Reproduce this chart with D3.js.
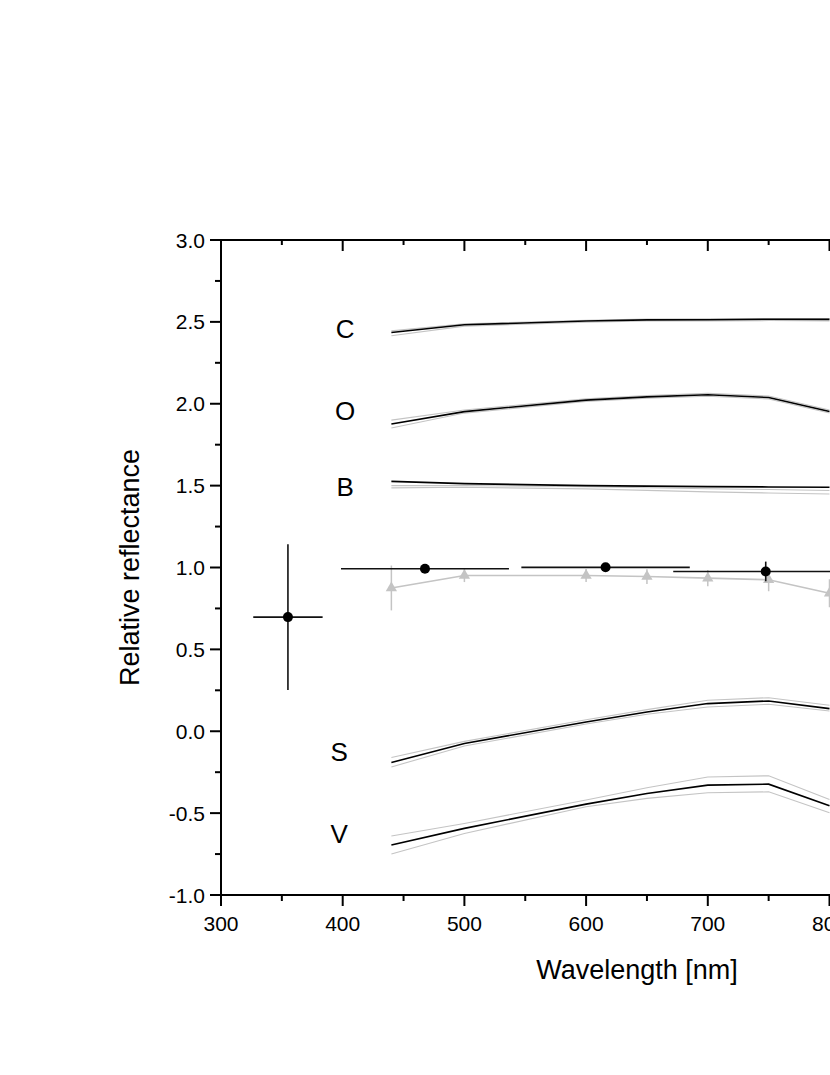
<!DOCTYPE html>
<html>
<head>
<meta charset="utf-8">
<script src="https://cdn.jsdelivr.net/npm/d3@7"></script>
<style>
  html, body { margin: 0; padding: 0; background: #fff; }
  svg { display: block; }
  text { font-family: "Liberation Sans", Arial, sans-serif; fill: #000; }
</style>
</head>
<body>
<svg id="chart" width="830" height="1075"></svg>
<script>
// ---------- data ----------
const wavelengths = [440, 500, 600, 650, 700, 750, 800];

const seriesC     = [2.435, 2.482, 2.505, 2.512, 2.513, 2.516, 2.515];
const seriesCHi   = [2.445, 2.488, 2.510, 2.518, 2.519, 2.521, 2.520];
const seriesCLo   = [2.415, 2.474, 2.498, 2.505, 2.506, 2.508, 2.505];

const seriesO     = [1.876, 1.952, 2.022, 2.042, 2.055, 2.038, 1.953];
const seriesOHi   = [1.900, 1.962, 2.030, 2.050, 2.064, 2.047, 1.962];
const seriesOLo   = [1.852, 1.943, 2.014, 2.034, 2.046, 2.029, 1.944];

const seriesB     = [1.526, 1.512, 1.500, 1.497, 1.494, 1.492, 1.490];
const seriesBHi   = [1.500, 1.500, 1.493, 1.487, 1.481, 1.476, 1.470];
const seriesBLo   = [1.486, 1.490, 1.480, 1.471, 1.462, 1.455, 1.449];

const seriesS     = [-0.191, -0.075, 0.057, 0.118, 0.169, 0.185, 0.138];
const seriesSHi   = [-0.160, -0.062, 0.070, 0.132, 0.189, 0.205, 0.159];
const seriesSLo   = [-0.218, -0.090, 0.044, 0.104, 0.148, 0.165, 0.124];

const seriesV     = [-0.695, -0.593, -0.445, -0.380, -0.329, -0.323, -0.455];
const seriesVHi   = [-0.640, -0.563, -0.420, -0.345, -0.279, -0.272, -0.417];
const seriesVLo   = [-0.750, -0.624, -0.461, -0.410, -0.376, -0.370, -0.498];

const spectraLabels = ["C", "O", "B", "S", "V"];
const labelValues   = [2.455, 1.955, 1.49, -0.125, -0.625];

// grey triangle series with vertical error bars
const triValues = [0.875, 0.951, 0.951, 0.945, 0.935, 0.925, 0.843];
const triErrors = [0.137, 0.040, 0.040, 0.045, 0.050, 0.070, 0.085];

// black points with horizontal and vertical error bars
const ptWave  = [355, 467.6, 616, 747.6];
const ptValue = [0.697, 0.992, 1.001, 0.976];
const ptXErr  = [28.5, 69, 69.2, 76];
const ptYErr  = [0.445, 0, 0, 0.06];

const xTicks = [300, 400, 500, 600, 700, 800];
const yTicks = [-1.0, -0.5, 0.0, 0.5, 1.0, 1.5, 2.0, 2.5, 3.0];

// ---------- scales ----------
const svg = d3.select("#chart");
const x = d3.scaleLinear().domain([300, 1000]).range([221, 221 + 700 * 1.217]);
const y = d3.scaleLinear().domain([-1, 3]).range([895, 240]);

const xMinor = d3.range(300, 1001, 50);
const yMinor = d3.range(-1, 3.001, 0.25);

// ---------- spectra ----------
const line = d3.line().x((d, i) => x(wavelengths[i])).y(d => y(d));
const greys = [seriesCHi, seriesCLo, seriesOHi, seriesOLo, seriesBHi, seriesBLo,
               seriesSHi, seriesSLo, seriesVHi, seriesVLo];
const blacks = [seriesC, seriesO, seriesB, seriesS, seriesV];

svg.append("g").selectAll("path").data(greys).join("path")
  .attr("d", line).attr("fill", "none").attr("stroke", "#c4c4c4").attr("stroke-width", 1.1);
svg.append("g").selectAll("path").data(blacks).join("path")
  .attr("d", line).attr("fill", "none").attr("stroke", "#000").attr("stroke-width", 1.6);

svg.append("g").selectAll("text").data(spectraLabels).join("text")
  .attr("x", (d, i) => i >= 3 ? x(397) : x(402))
  .attr("y", (d, i) => y(labelValues[i]))
  .attr("text-anchor", "middle").attr("dominant-baseline", "central")
  .attr("font-size", 26).text(d => d);

// ---------- grey triangles ----------
const triG = svg.append("g");
triG.selectAll("line").data(triValues).join("line")
  .attr("x1", (d, i) => x(wavelengths[i])).attr("x2", (d, i) => x(wavelengths[i]))
  .attr("y1", (d, i) => y(d + triErrors[i])).attr("y2", (d, i) => y(d - triErrors[i]))
  .attr("stroke", "#c4c4c4").attr("stroke-width", 1.5);
triG.append("path").datum(triValues).attr("d", line)
  .attr("fill", "none").attr("stroke", "#c4c4c4").attr("stroke-width", 1.6);
const tri = d3.symbol().type(d3.symbolTriangle).size(55);
triG.selectAll("path.tri").data(triValues).join("path").attr("class", "tri")
  .attr("d", tri)
  .attr("transform", (d, i) => `translate(${x(wavelengths[i])},${y(d)})`)
  .attr("fill", "#c4c4c4");

// ---------- black points with error bars ----------
const ptG = svg.append("g");
ptG.selectAll("line.h").data(ptValue).join("line").attr("class", "h")
  .attr("x1", (d, i) => x(ptWave[i] - ptXErr[i])).attr("x2", (d, i) => x(ptWave[i] + ptXErr[i]))
  .attr("y1", d => y(d)).attr("y2", d => y(d))
  .attr("stroke", "#111").attr("stroke-width", 1.6);
ptG.selectAll("line.v").data(ptValue).join("line").attr("class", "v")
  .attr("x1", (d, i) => x(ptWave[i])).attr("x2", (d, i) => x(ptWave[i]))
  .attr("y1", (d, i) => y(d + ptYErr[i])).attr("y2", (d, i) => y(d - ptYErr[i]))
  .attr("stroke", "#111").attr("stroke-width", 1.6);
ptG.selectAll("circle").data(ptValue).join("circle")
  .attr("cx", (d, i) => x(ptWave[i])).attr("cy", d => y(d)).attr("r", 5)
  .attr("fill", "#000");

// ---------- axes ----------
const axG = svg.append("g").attr("stroke", "#000").attr("stroke-width", 2);
axG.append("line").attr("x1", x(300)).attr("x2", x(1000)).attr("y1", y(-1)).attr("y2", y(-1));
axG.append("line").attr("x1", x(300)).attr("x2", x(1000)).attr("y1", y(3)).attr("y2", y(3));
axG.append("line").attr("x1", x(300)).attr("x2", x(300)).attr("y1", y(3) - 1).attr("y2", y(-1) + 1);

const isMajX = v => Math.abs(v % 100) < 1e-6;
axG.selectAll("line.bt").data(xMinor).join("line").attr("class", "bt")
  .attr("x1", d => x(d)).attr("x2", d => x(d))
  .attr("y1", y(-1)).attr("y2", d => y(-1) + (isMajX(d) ? 11 : 6));
axG.selectAll("line.tt").data(xMinor).join("line").attr("class", "tt")
  .attr("x1", d => x(d)).attr("x2", d => x(d))
  .attr("y1", y(3)).attr("y2", d => y(3) + (isMajX(d) ? 11 : 5));
const isMajY = v => Math.abs(Math.round(v * 2) - v * 2) < 1e-6;
axG.selectAll("line.lt").data(yMinor).join("line").attr("class", "lt")
  .attr("y1", d => y(d)).attr("y2", d => y(d))
  .attr("x1", x(300)).attr("x2", d => x(300) - (isMajY(d) ? 11 : 6));

// tick labels
svg.append("g").selectAll("text").data(xTicks).join("text")
  .attr("x", d => x(d)).attr("y", y(-1) + 28)
  .attr("text-anchor", "middle").attr("dominant-baseline", "central")
  .attr("font-size", 21).text(d => d);
svg.append("g").selectAll("text").data(yTicks).join("text")
  .attr("x", x(300) - 16).attr("y", d => y(d))
  .attr("text-anchor", "end").attr("dominant-baseline", "central")
  .attr("font-size", 21).text(d => d.toFixed(1));

// axis titles
svg.append("text").attr("x", 637).attr("y", 970)
  .attr("text-anchor", "middle").attr("dominant-baseline", "central")
  .attr("font-size", 27).text("Wavelength [nm]");
svg.append("text")
  .attr("transform", `translate(130,${(y(3) + y(-1)) / 2}) rotate(-90)`)
  .attr("text-anchor", "middle").attr("dominant-baseline", "central")
  .attr("font-size", 27).text("Relative reflectance");
</script>
</body>
</html>
